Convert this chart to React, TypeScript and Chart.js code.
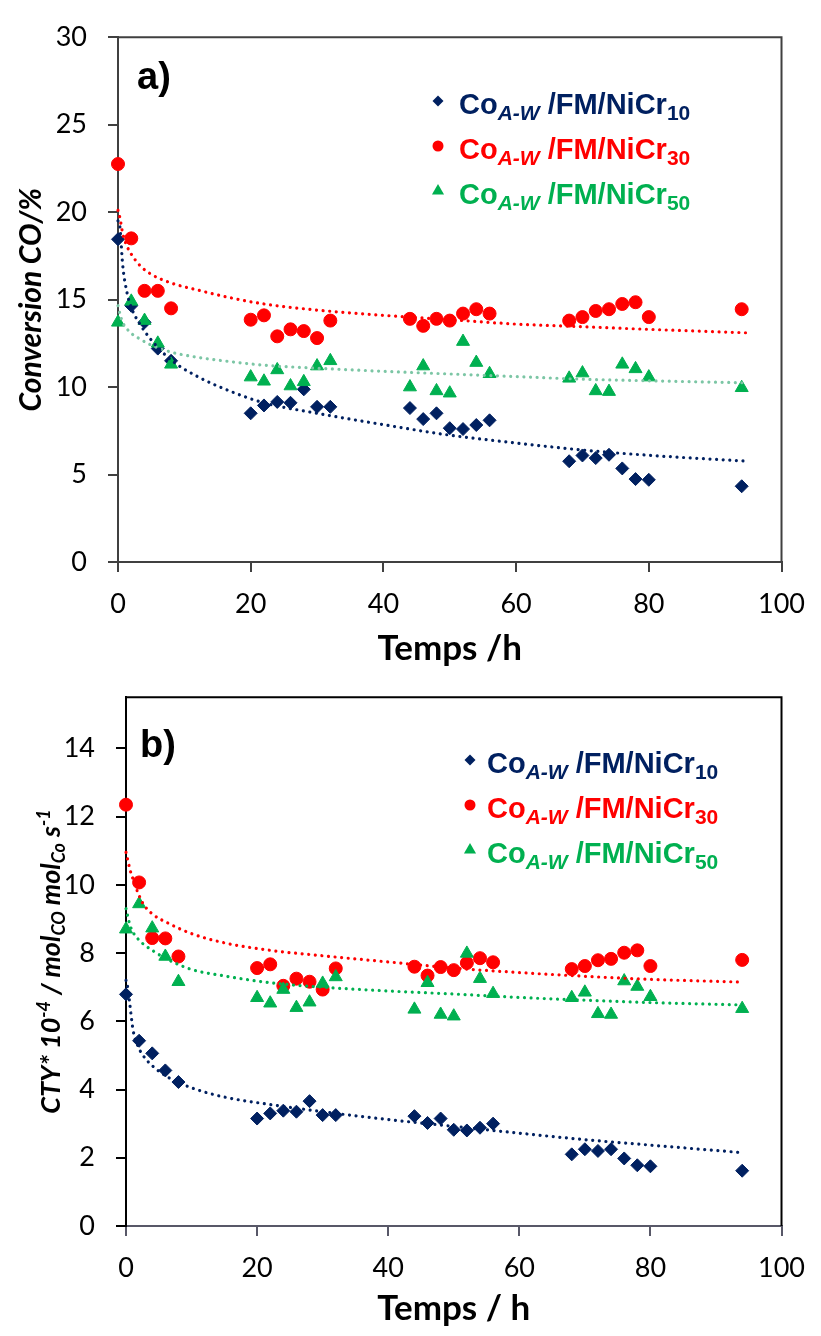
import React, { useEffect, useRef } from "react";
import { Chart, registerables } from "chart.js";

Chart.register(...registerables);

// ---------------- data ----------------
const times = [0, 2, 4, 6, 8, 20, 22, 24, 26, 28, 30, 32, 44, 46, 48, 50, 52, 54, 56, 68, 70, 72, 74, 76, 78, 80, 94];

// a) Conversion CO /%
const convNiCr10 = [18.45, 14.65, 13.7, 12.2, 11.5, 8.5, 8.95, 9.15, 9.1, 9.87, 8.87, 8.87, 8.8, 8.17, 8.5, 7.65, 7.6, 7.83, 8.1, 5.76, 6.09, 5.94, 6.13, 5.35, 4.74, 4.7, 4.33];
const convNiCr30 = [22.75, 18.5, 15.5, 15.5, 14.5, 13.85, 14.1, 12.9, 13.3, 13.2, 12.8, 13.8, 13.9, 13.5, 13.9, 13.8, 14.2, 14.45, 14.2, 13.8, 14.0, 14.35, 14.45, 14.75, 14.85, 14.0, 14.45];
const convNiCr50 = [13.7, 14.9, 13.8, 12.5, 11.3, 10.57, 10.33, 10.98, 10.06, 10.3, 11.2, 11.5, 10.0, 11.2, 9.78, 9.65, 12.6, 11.4, 10.76, 10.5, 10.8, 9.78, 9.74, 11.3, 11.04, 10.57, 9.96];

// a) trend lines (read from the picture)
const trendTimesA = [0, 0.3, 0.7, 1.3, 2, 3.3, 5, 8, 12, 17, 22, 30, 40, 50, 60, 70, 80, 95];
const trendConv10 = [19.5, 19.1, 17.0, 15.5, 14.55, 13.6, 12.7, 11.55, 10.6, 9.75, 9.1, 8.5, 7.85, 7.25, 6.8, 6.4, 6.1, 5.76];
const trendConv30 = [20.1, 19.65, 18.8, 18.1, 17.6, 16.95, 16.45, 15.95, 15.55, 15.1, 14.75, 14.4, 14.1, 13.85, 13.6, 13.45, 13.3, 13.1];
const trendConv50 = [14.65, 14.18, 13.7, 13.35, 13.07, 12.75, 12.4, 12.0, 11.7, 11.45, 11.25, 11.08, 10.9, 10.75, 10.6, 10.45, 10.36, 10.24];

// b) CTY * 10^-4
const ctyNiCr10 = [6.79, 5.43, 5.06, 4.56, 4.22, 3.15, 3.3, 3.38, 3.35, 3.66, 3.25, 3.25, 3.22, 3.02, 3.15, 2.82, 2.8, 2.88, 3.0, 2.1, 2.25, 2.2, 2.25, 1.98, 1.78, 1.75, 1.62];
const ctyNiCr30 = [12.35, 10.07, 8.44, 8.43, 7.9, 7.56, 7.67, 7.04, 7.25, 7.16, 6.93, 7.55, 7.6, 7.34, 7.59, 7.5, 7.71, 7.85, 7.73, 7.53, 7.62, 7.79, 7.83, 8.01, 8.08, 7.62, 7.8];
const ctyNiCr50 = [8.7, 9.44, 8.73, 7.9, 7.16, 6.69, 6.53, 6.93, 6.4, 6.56, 7.11, 7.3, 6.35, 7.13, 6.2, 6.15, 7.99, 7.25, 6.81, 6.69, 6.85, 6.22, 6.2, 7.18, 7.02, 6.72, 6.37];

// b) trend lines (read from the picture)
const trendTimesB = [0, 0.3, 0.6, 1.1, 1.8, 2.6, 4, 6.5, 10, 15, 22, 30, 40, 50, 60, 70, 80, 94];
const trendCty10 = [7.2, 6.95, 6.47, 5.72, 5.28, 5.0, 4.7, 4.35, 4.05, 3.78, 3.56, 3.35, 3.12, 2.92, 2.72, 2.53, 2.37, 2.15];
const trendCty30 = [10.95, 10.7, 10.45, 10.15, 9.78, 9.45, 9.15, 8.87, 8.57, 8.3, 8.08, 7.92, 7.74, 7.56, 7.43, 7.32, 7.23, 7.15];
const trendCty50 = [9.3, 9.05, 8.82, 8.6, 8.42, 8.27, 8.08, 7.8, 7.52, 7.33, 7.13, 7.0, 6.89, 6.8, 6.7, 6.62, 6.55, 6.48];

// ticks
const xTicks = [0, 20, 40, 60, 80, 100];
const convTicks = [0, 5, 10, 15, 20, 25, 30];
const ctyTicks = [0, 2, 4, 6, 8, 10, 12, 14];

// legend subscripts
const seriesSubs = ["10", "30", "50"];

// ---------------- styling ----------------
const W = 821;
const NAVY = "#002060";
const RED = "#FF0000";
const GREEN = "#00B050";
const GREEN_TREND_A = "#7CC6A5";
const LATO = "Lato, 'Open Sans', sans-serif";
const ARIAL = "'Liberation Sans', Arial, sans-serif";

type Seg = { t: string; size: number; italic?: boolean; dy?: number };

function fontOf(s: Seg, family: string) {
  return `${s.italic ? "italic " : ""}bold ${s.size}px ${family}`;
}

function drawSegs(ctx: CanvasRenderingContext2D, segs: Seg[], x: number, y: number, family: string, color: string, align: "left" | "center") {
  const widths = segs.map((s) => {
    ctx.font = fontOf(s, family);
    return ctx.measureText(s.t).width;
  });
  const total = widths.reduce((a, b) => a + b, 0);
  let cx = align === "center" ? x - total / 2 : x;
  ctx.textAlign = "left";
  ctx.textBaseline = "alphabetic";
  ctx.fillStyle = color;
  segs.forEach((s, i) => {
    ctx.font = fontOf(s, family);
    ctx.fillText(s.t, cx, y + (s.dy || 0));
    cx += widths[i];
  });
}

function legendSegs(sub: string): Seg[] {
  return [
    { t: "Co", size: 29 },
    { t: "A-W", size: 21, italic: true, dy: 6 },
    { t: " /FM/NiCr", size: 29 },
    { t: sub, size: 21, dy: 6 },
  ];
}

function drawMarker(ctx: CanvasRenderingContext2D, kind: string, x: number, y: number, r: number, color: string) {
  ctx.fillStyle = color;
  ctx.beginPath();
  if (kind === "rectRot") {
    ctx.moveTo(x, y - r);
    ctx.lineTo(x + r, y);
    ctx.lineTo(x, y + r);
    ctx.lineTo(x - r, y);
  } else if (kind === "circle") {
    ctx.arc(x, y, r, 0, Math.PI * 2);
  } else {
    ctx.moveTo(x, y - r);
    ctx.lineTo(x + r * 0.866, y + r / 2);
    ctx.lineTo(x - r * 0.866, y + r / 2);
  }
  ctx.closePath();
  ctx.fill();
}

interface PanelSpec {
  canvasH: number;
  left: number;
  right: number;
  top: number;
  bottom: number;
  yMax: number;
  yTicks: number[];
  s10: number[];
  s30: number[];
  s50: number[];
  trendT: number[];
  tr10: number[];
  tr30: number[];
  tr50: number[];
  tr50Color: string;
  xAxisColor: string;
  yAxisColor: string;
  frameColor: string;
  axisWidth: number;
  xTitle: string;
  xTitleY: number;
  yTitle: Seg[];
  yTitleX: number;
  label: string;
  labelX: number;
  labelY: number;
  legendX: number;
  legendTextX: number;
  legendY: number[];
}

const pts = (xs: number[], ys: number[]) => xs.map((x, i) => ({ x, y: ys[i] }));

function scatterDs(label: string, data: any[], color: string, style: string, radius: number, order: number) {
  return {
    label,
    data,
    showLine: false,
    pointStyle: style,
    pointRadius: radius,
    pointBackgroundColor: color,
    pointBorderColor: color,
    pointBorderWidth: 1,
    order,
    clip: false,
  };
}

function trendDs(label: string, data: any[], color: string) {
  return {
    label,
    data,
    showLine: true,
    pointRadius: 0,
    borderColor: color,
    borderWidth: 3.2,
    borderDash: [0.01, 6.6],
    borderCapStyle: "round",
    cubicInterpolationMode: "monotone",
    fill: false,
    order: 0,
    clip: false,
  };
}

function buildConfig(p: PanelSpec): any {
  const markers = ["rectRot", "circle", "triangle"];
  const colors = [NAVY, RED, GREEN];
  const overlay = {
    id: "overlay",
    afterDraw(chart: any) {
      const ctx: CanvasRenderingContext2D = chart.ctx;
      const a = chart.chartArea;
      ctx.save();
      // plot frame (top and right)
      ctx.strokeStyle = p.frameColor;
      ctx.lineWidth = p.axisWidth;
      ctx.beginPath();
      ctx.moveTo(a.left, a.top);
      ctx.lineTo(a.right, a.top);
      ctx.lineTo(a.right, a.bottom);
      ctx.stroke();
      // panel label
      ctx.font = `bold 38px ${ARIAL}`;
      ctx.fillStyle = "#000";
      ctx.textAlign = "left";
      ctx.textBaseline = "alphabetic";
      ctx.fillText(p.label, p.labelX, p.labelY);
      // legend
      p.legendY.forEach((yy, i) => {
        drawMarker(ctx, markers[i], p.legendX, yy - 3, i === 2 ? 7 : 5.5, colors[i]);
        drawSegs(ctx, legendSegs(seriesSubs[i]), p.legendTextX, yy + 10, ARIAL, colors[i], "left");
      });
      // x title
      drawSegs(ctx, [{ t: p.xTitle, size: 35 }], (a.left + a.right) / 2, p.xTitleY, LATO, "#000", "center");
      // y title
      ctx.translate(p.yTitleX, (a.top + a.bottom) / 2);
      ctx.rotate(-Math.PI / 2);
      drawSegs(ctx, p.yTitle, 0, 0, LATO, "#000", "center");
      ctx.restore();
    },
  };

  return {
    type: "scatter",
    data: {
      datasets: [
        trendDs("Trend NiCr10", pts(p.trendT, p.tr10), NAVY),
        trendDs("Trend NiCr30", pts(p.trendT, p.tr30), RED),
        trendDs("Trend NiCr50", pts(p.trendT, p.tr50), p.tr50Color),
        scatterDs("CoA-W/FM/NiCr10", pts(times, p.s10), NAVY, "rectRot", 6.5, 3),
        scatterDs("CoA-W/FM/NiCr30", pts(times, p.s30), RED, "circle", 6.5, 2),
        scatterDs("CoA-W/FM/NiCr50", pts(times, p.s50), GREEN, "triangle", 7.5, 1),
      ],
    },
    options: {
      animation: false,
      responsive: false,
      events: [],
      layout: { padding: { left: 0, right: W - p.right, top: p.top, bottom: 0 } },
      plugins: { legend: { display: false }, tooltip: { enabled: false } },
      scales: {
        x: {
          type: "linear",
          position: "bottom",
          min: 0,
          max: 100,
          afterBuildTicks: (s: any) => {
            s.ticks = xTicks.map((v) => ({ value: v }));
          },
          afterFit: (s: any) => {
            s.height = p.canvasH - p.bottom;
          },
          ticks: {
            font: { family: LATO, size: 27 },
            color: "#000",
            padding: 16,
            maxRotation: 0,
            autoSkip: false,
            callback: (v: any) => String(v),
          },
          grid: {
            display: true,
            drawOnChartArea: false,
            drawTicks: true,
            tickLength: 10,
            color: p.xAxisColor,
            lineWidth: p.axisWidth,
          },
          border: { display: true, color: p.xAxisColor, width: p.axisWidth },
          title: { display: false },
        },
        y: {
          type: "linear",
          position: "left",
          min: 0,
          max: p.yMax,
          afterBuildTicks: (s: any) => {
            s.ticks = p.yTicks.map((v) => ({ value: v }));
          },
          afterFit: (s: any) => {
            s.width = p.left;
          },
          ticks: {
            font: { family: LATO, size: 27 },
            color: "#000",
            padding: 21,
            autoSkip: false,
            callback: (v: any) => String(v),
          },
          grid: {
            display: true,
            drawOnChartArea: false,
            drawTicks: true,
            tickLength: 10,
            color: p.yAxisColor,
            lineWidth: p.axisWidth,
          },
          border: { display: true, color: p.yAxisColor, width: p.axisWidth },
          title: { display: false },
        },
      },
    },
    plugins: [overlay],
  };
}

const panelA: PanelSpec = {
  canvasH: 680,
  left: 118,
  right: 786,
  top: 22,
  bottom: 562,
  yMax: 30,
  yTicks: convTicks,
  s10: convNiCr10,
  s30: convNiCr30,
  s50: convNiCr50,
  trendT: trendTimesA,
  tr10: trendConv10,
  tr30: trendConv30,
  tr50: trendConv50,
  tr50Color: GREEN_TREND_A,
  xAxisColor: "#404040",
  yAxisColor: "#404040",
  frameColor: "#404040",
  axisWidth: 2,
  xTitle: "Temps /h",
  xTitleY: 660,
  yTitle: [{ t: "Conversion CO/%", size: 30, italic: true }],
  yTitleX: 41,
  label: "a)",
  labelX: 137,
  labelY: 89,
  legendX: 438,
  legendTextX: 459,
  legendY: [104, 149, 194],
};

const panelB: PanelSpec = {
  canvasH: 676,
  left: 126,
  right: 793,
  top: 8,
  bottom: 566,
  yMax: 15.5,
  yTicks: ctyTicks,
  s10: ctyNiCr10,
  s30: ctyNiCr30,
  s50: ctyNiCr50,
  trendT: trendTimesB,
  tr10: trendCty10,
  tr30: trendCty30,
  tr50: trendCty50,
  tr50Color: GREEN,
  xAxisColor: "#585868",
  yAxisColor: "#000000",
  frameColor: "#000000",
  axisWidth: 2,
  xTitle: "Temps / h",
  xTitleY: 660,
  yTitle: [
    { t: "CTY* 10", size: 27, italic: true },
    { t: "-4", size: 18, italic: true, dy: -10 },
    { t: " / mol", size: 27, italic: true },
    { t: "CO", size: 18, italic: true, dy: 5 },
    { t: " mol", size: 27, italic: true },
    { t: "Co", size: 18, italic: true, dy: 5 },
    { t: " s", size: 27, italic: true },
    { t: "-1", size: 18, italic: true, dy: -10 },
  ],
  yTitleX: 60,
  label: "b)",
  labelX: 140,
  labelY: 97,
  legendX: 470,
  legendTextX: 487,
  legendY: [103, 148, 193],
};

function Panel({ spec, top }: { spec: PanelSpec; top: number }) {
  const ref = useRef<HTMLCanvasElement>(null);
  useEffect(() => {
    const chart = new Chart(ref.current as HTMLCanvasElement, buildConfig(spec));
    return () => chart.destroy();
  }, [spec]);
  return (
    <canvas
      ref={ref}
      width={W}
      height={spec.canvasH}
      style={{ position: "absolute", left: 0, top, width: W, height: spec.canvasH, display: "block" }}
    />
  );
}

export default function App() {
  return (
    <div style={{ position: "absolute", left: 0, top: 0, width: 821, height: 1336, background: "#fff", overflow: "hidden" }}>
      <Panel spec={panelA} top={0} />
      <Panel spec={panelB} top={660} />
    </div>
  );
}
